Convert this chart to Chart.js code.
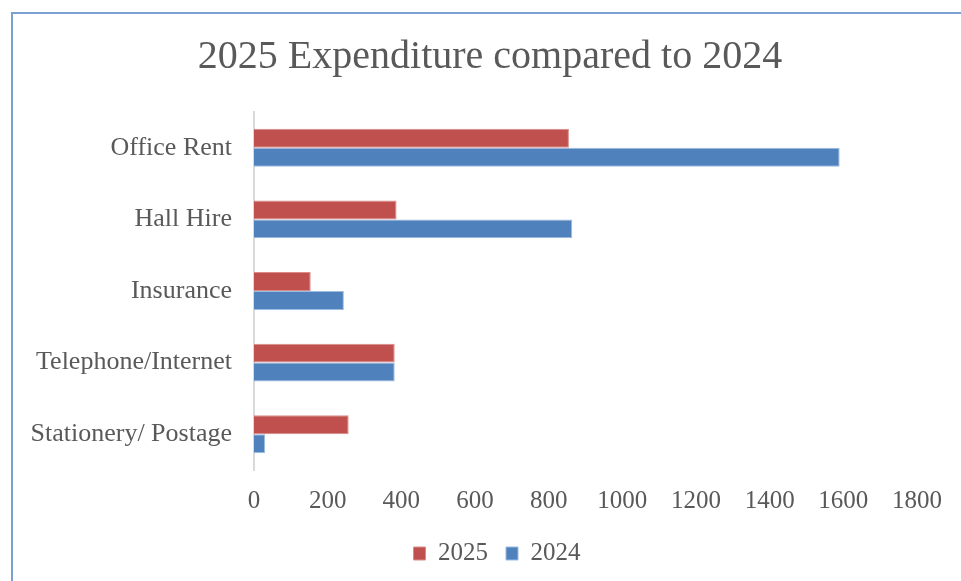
<!DOCTYPE html>
<html>
<head>
<meta charset="utf-8">
<script src="https://cdn.jsdelivr.net/npm/chart.js@4/dist/chart.umd.min.js"></script>
<style>
  html, body { margin: 0; padding: 0; background: #fff; overflow: hidden; }
  #wrap { position: relative; width: 961px; height: 581px; }
  #frame { position: absolute; left: 11px; top: 12px; width: 960px; height: 580px;
           border-left: 2px solid #7b9fd1; border-top: 2px solid #7b9fd1; box-sizing: border-box; }
  canvas { position: absolute; left: 0; top: 0; }
</style>
</head>
<body>
<div id="wrap">
  <div id="frame"></div>
  <canvas id="chart" width="961" height="581"></canvas>
</div>
<script>
// Données
const categories = ['Office Rent', 'Hall Hire', 'Insurance', 'Telephone/Internet', 'Stationery/ Postage'];
const depenses2025 = [855, 387, 154, 382, 257];
const depenses2024 = [1590, 864, 244, 382, 30];
const ticksX = [0, 200, 400, 600, 800, 1000, 1200, 1400, 1600, 1800];

const police = "'Liberation Serif', 'DejaVu Serif', serif";
const gris = '#595959';

// Recentrer le titre et la légende sur toute la largeur (comme dans Excel)
const centrerBlocs = {
    id: 'centrerBlocs',
    afterLayout(chart) {
        const t = chart.titleBlock;
        if (t) { t.left = 63; t.right = 917; t.width = t.right - t.left; }
        const l = chart.legend;
        if (l) { l.left = 77; l.right = 917; l.width = l.right - l.left; }
    }
};

const ctx = document.getElementById('chart').getContext('2d');
new Chart(ctx, {
    type: 'bar',
    data: {
        labels: categories,
        datasets: [
            { label: '2025', data: depenses2025, backgroundColor: '#C0504D', borderColor: '#d98c8a', borderWidth: 1, borderSkipped: 'left' },
            { label: '2024', data: depenses2024, backgroundColor: '#4F81BD', borderColor: '#9bbbe0', borderWidth: 1, borderSkipped: 'left' }
        ]
    },
    plugins: [centrerBlocs],
    options: {
        indexAxis: 'y',
        responsive: false,
        animation: false,
        layout: { padding: { left: 0, right: 44, top: 0, bottom: 5 } },
        datasets: { bar: { categoryPercentage: 0.53, barPercentage: 1.0 } },
        plugins: {
            title: {
                display: true,
                text: '2025 Expenditure compared to 2024',
                color: gris,
                font: { family: police, size: 40, weight: 'normal' },
                padding: { top: 33, bottom: 31 }
            },
            legend: {
                position: 'bottom',
                labels: {
                    color: gris,
                    font: { family: police, size: 25 },
                    boxWidth: 12, boxHeight: 13,
                    padding: 18
                }
            },
            tooltip: { enabled: false }
        },
        scales: {
            x: {
                min: 0, max: 1800,
                afterBuildTicks: s => { s.ticks = ticksX.map(v => ({ value: v })); },
                grid: { display: false, drawTicks: false },
                border: { display: false },
                ticks: { color: gris, font: { family: police, size: 25 }, padding: 16, callback: v => String(v) },
                afterFit: s => { s.height = 53; }
            },
            y: {
                grid: { display: false, drawTicks: false },
                border: { display: true, color: '#d9d9d9', width: 2 },
                ticks: { color: gris, font: { family: police, size: 26 }, padding: 22 },
                afterFit: s => { s.width = 254; }
            }
        }
    }
});
</script>
</body>
</html>
